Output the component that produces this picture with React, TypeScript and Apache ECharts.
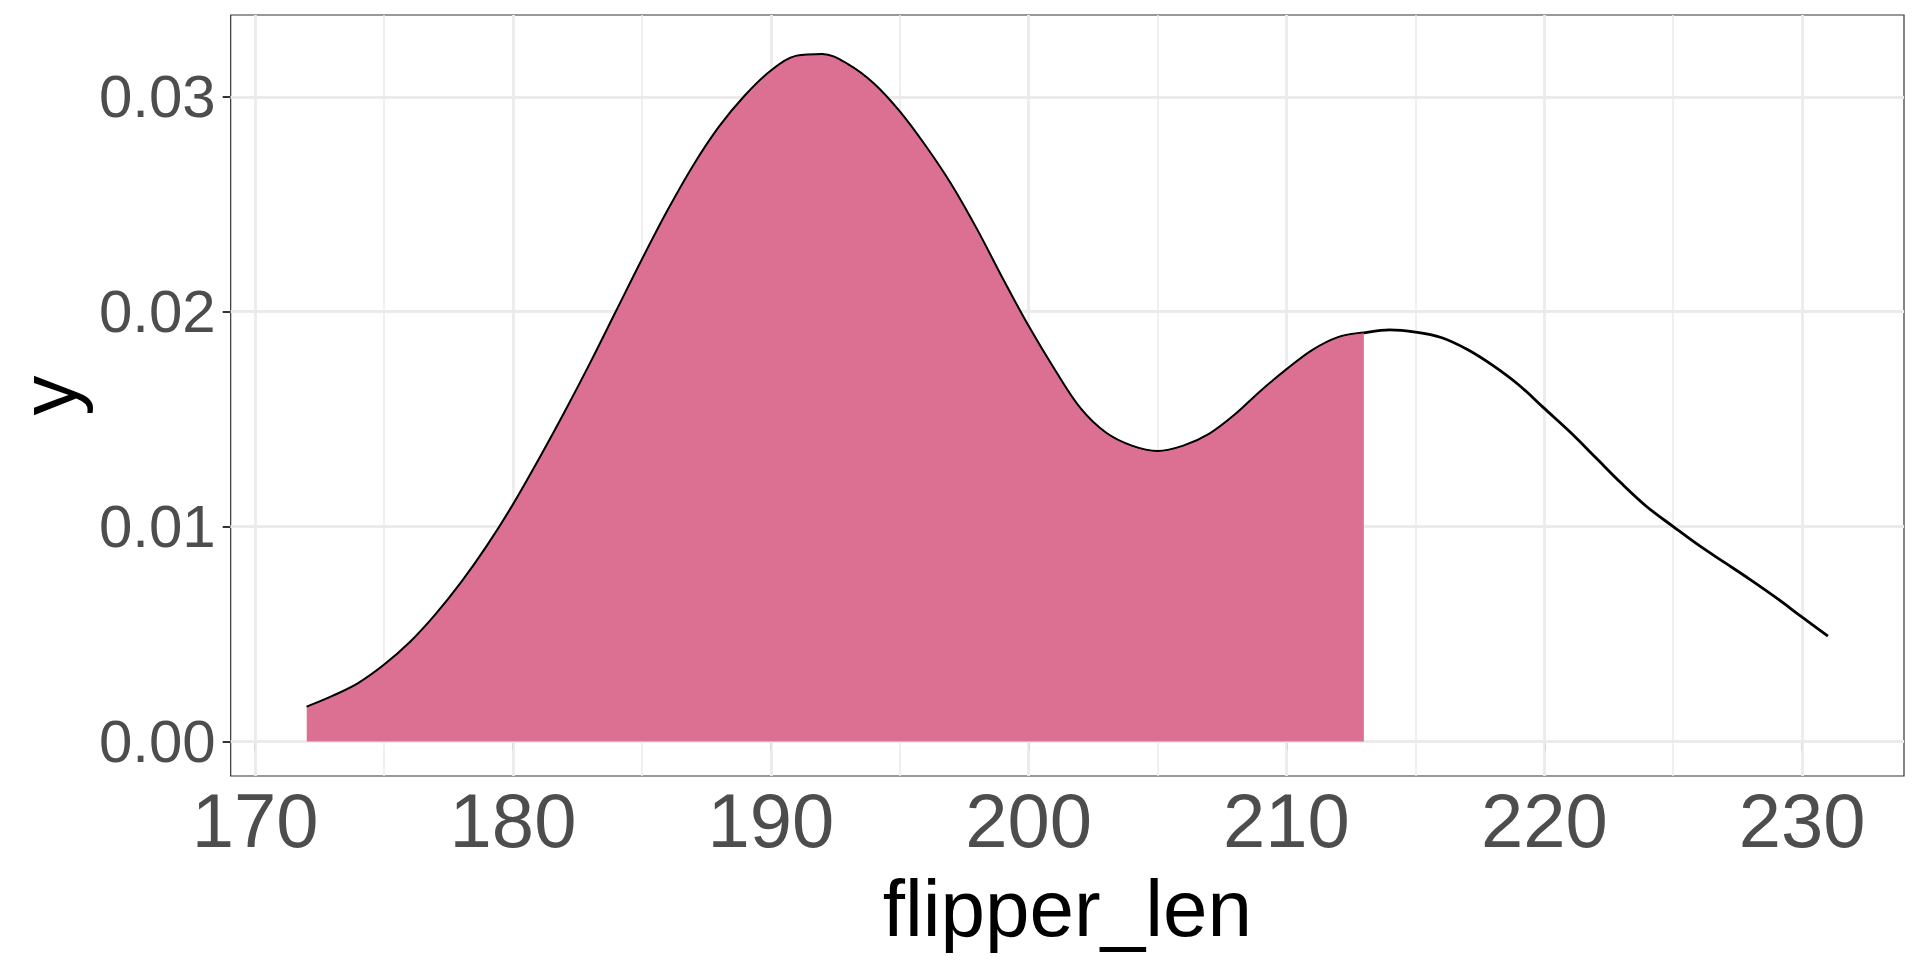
import React, { useEffect, useRef } from "react";
import * as echarts from "echarts";

// density curve (flipper_len, density), one reading per unit
const curveX = [172, 173, 174, 175, 176, 177, 178, 179, 180, 181, 182, 183, 184, 185, 186, 187, 188, 189, 190, 191, 192, 193, 194, 195, 196, 197, 198, 199, 200, 201, 202, 203, 204, 205, 206, 207, 208, 209, 210, 211, 212, 213, 214, 215, 216, 217, 218, 219, 220, 221, 222, 223, 224, 225, 226, 227, 228, 229, 230, 231];
const curveY = [0.0016, 0.0021, 0.0027, 0.00355, 0.0046, 0.0059, 0.0074, 0.0091, 0.011, 0.0131, 0.0153, 0.0176, 0.02, 0.0224, 0.0247, 0.0268, 0.0286, 0.03005, 0.0312, 0.0319, 0.03198, 0.0315, 0.0306, 0.0293, 0.0277, 0.0259, 0.0238, 0.0215, 0.0193, 0.0173, 0.0155, 0.01435, 0.01375, 0.0135, 0.01375, 0.0143, 0.0152, 0.0163, 0.0173, 0.0182, 0.0188, 0.01902, 0.01915, 0.01905, 0.0188, 0.01825, 0.0175, 0.0166, 0.0155, 0.0144, 0.0132, 0.012, 0.0109, 0.01, 0.00912, 0.00832, 0.00752, 0.00668, 0.00578, 0.0049];
const shadeUpTo = 213;

const xTicks = [170, 180, 190, 200, 210, 220, 230];
const xMinor = [175, 185, 195, 205, 215, 225];
const yTicks = [0, 0.01, 0.02, 0.03];
const yMinor = [0.005, 0.015, 0.025];

const xMin = 169.05;
const xMax = 233.95;
const yMin = -0.00161;
const yMax = 0.03381;

const FONT = "'Liberation Sans', Arial, Helvetica, sans-serif";

export default function App() {
  const ref = useRef<HTMLDivElement>(null);
  useEffect(() => {
    if (!ref.current) return;
    const chart = echarts.init(ref.current, null, { renderer: "svg" });
    const full = curveX.map((x, i) => [x, curveY[i]]);
    const shaded = full.filter((p) => p[0] <= shadeUpTo);

    const gridData: any[] = [];
    xTicks.forEach((v) => gridData.push({ xAxis: v, lineStyle: { width: 2.8 } }));
    xMinor.forEach((v) => gridData.push({ xAxis: v, lineStyle: { width: 1.5 } }));
    yTicks.forEach((v) => gridData.push({ yAxis: v, lineStyle: { width: 2.8 } }));
    yMinor.forEach((v) => gridData.push({ yAxis: v, lineStyle: { width: 1.5 } }));

    chart.setOption({
      animation: false,
      backgroundColor: "#ffffff",
      textStyle: { fontFamily: FONT },
      grid: {
        left: 227,
        top: 15,
        right: 16,
        bottom: 184,
        show: true,
        borderColor: "#333333",
        borderWidth: 1.2,
        backgroundColor: "#ffffff",
      },
      xAxis: {
        type: "value",
        min: xMin,
        max: xMax,
        splitLine: { show: false },
        axisLine: { show: false },
        axisTick: {
          show: true,
          customValues: xTicks,
          length: 9,
          lineStyle: { color: "#333333", width: 2 },
        },
        axisLabel: {
          customValues: xTicks,
          fontSize: 76,
          color: "#4D4D4D",
          margin: 6,
          fontFamily: FONT,
        },
        name: "flipper_len",
        nameLocation: "middle",
        nameGap: 92,
        nameTextStyle: { fontSize: 80, color: "#000000", fontFamily: FONT },
      },
      yAxis: {
        type: "value",
        min: yMin,
        max: yMax,
        splitLine: { show: false },
        axisLine: { show: false },
        axisTick: {
          show: true,
          customValues: yTicks,
          length: 8,
          lineStyle: { color: "#333333", width: 2 },
        },
        axisLabel: {
          customValues: yTicks,
          fontSize: 60,
          color: "#4D4D4D",
          margin: 15,
          fontFamily: FONT,
          formatter: (v: number) => v.toFixed(2),
        },
        name: "y",
        nameLocation: "middle",
        nameGap: 140,
        nameRotate: 90,
        nameTextStyle: { fontSize: 80, color: "#000000", fontFamily: FONT },
      },
      series: [
        {
          type: "line",
          data: full,
          z: 1,
          showSymbol: false,
          silent: true,
          lineStyle: { opacity: 0 },
          markLine: {
            silent: true,
            z: 1,
            symbol: ["none", "none"],
            label: { show: false },
            lineStyle: { color: "#EBEBEB", type: "solid" },
            data: gridData,
          },
        },
        {
          type: "line",
          data: full,
          z: 2,
          smooth: 0.35,
          showSymbol: false,
          silent: true,
          lineStyle: { color: "#000000", width: 2.8 },
        },
        {
          type: "line",
          data: shaded,
          z: 3,
          smooth: 0.35,
          showSymbol: false,
          silent: true,
          lineStyle: { color: "#000000", width: 1.2 },
          areaStyle: { color: "#DB7093", opacity: 1, origin: 0 },
        },
      ],
    });
    return () => chart.dispose();
  }, []);
  return (
    <div
      ref={ref}
      style={{ position: "fixed", left: 0, top: 0, width: 1920, height: 960 }}
    />
  );
}
